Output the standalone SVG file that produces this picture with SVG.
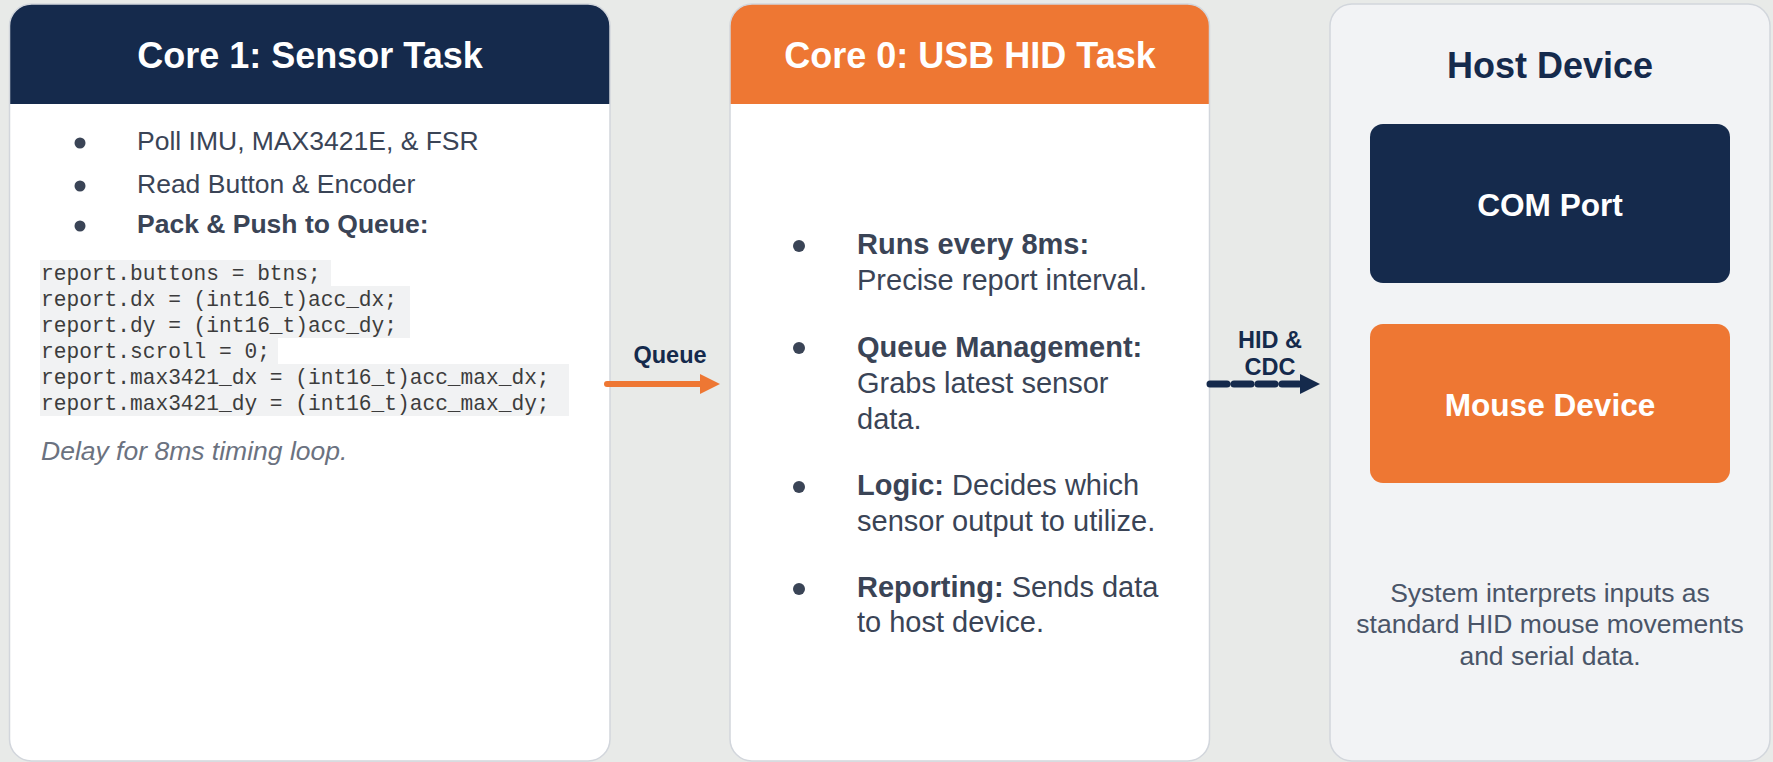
<svg xmlns="http://www.w3.org/2000/svg" width="1773" height="762" viewBox="0 0 1773 762">
<defs>
<style>
.panel{stroke:#d2d6dc;stroke-width:1.5}
.title{font-family:"Liberation Sans",Arial,sans-serif;font-weight:bold;font-size:36px;text-anchor:middle}
.body{font-family:"Liberation Sans",Arial,sans-serif;fill:#3a4456}
.b{font-weight:bold}
.code{font-family:"Liberation Mono","Courier New",monospace;font-size:21.2px;fill:#3c3c3c}
.codebg{fill:#f1f2f3}
.lbl{font-family:"Liberation Sans",Arial,sans-serif;font-weight:bold;font-size:23.5px;fill:#152a4c;text-anchor:middle}
.dot{fill:#3a4456}
</style>
<marker id="headO" markerUnits="userSpaceOnUse" markerWidth="20" markerHeight="20" refX="2" refY="10" orient="auto">
<path d="M0,0 L20,10 L0,20 Z" fill="#ee7733"/>
</marker>
<marker id="headN" markerUnits="userSpaceOnUse" markerWidth="20" markerHeight="20" refX="2" refY="10" orient="auto">
<path d="M0,0 L20,10 L0,20 Z" fill="#152a4c"/>
</marker>
</defs>
<rect width="1773" height="762" fill="#e8eae8"/>

<g id="core1">
<rect x="9.5" y="4" width="600.5" height="757" rx="22" fill="#ffffff"/>
<path d="M9.5,104 V26 A22,22 0 0 1 31.5,4 H588 A22,22 0 0 1 610,26 V104 Z" fill="#152a4c"/>
<rect class="panel" x="9.5" y="4" width="600.5" height="757" rx="22" fill="none"/>
<text class="title" x="310" y="68" fill="#ffffff">Core 1: Sensor Task</text>
<circle class="dot" cx="80" cy="143" r="5.5"/>
<circle class="dot" cx="80" cy="186" r="5.5"/>
<circle class="dot" cx="80" cy="226" r="5.5"/>
<text class="body" font-size="26.5" x="137" y="150">Poll IMU, MAX3421E, &amp; FSR</text>
<text class="body" font-size="26.5" x="137" y="193">Read Button &amp; Encoder</text>
<text class="body b" font-size="26.5" x="137" y="233">Pack &amp; Push to Queue:</text>
<rect class="codebg" x="40" y="260" width="291" height="26"/>
<rect class="codebg" x="40" y="286" width="370" height="26"/>
<rect class="codebg" x="40" y="312" width="370" height="26"/>
<rect class="codebg" x="40" y="338" width="238" height="26"/>
<rect class="codebg" x="40" y="364" width="529" height="26"/>
<rect class="codebg" x="40" y="390" width="529" height="26"/>
<text class="code" x="41" y="280">report.buttons = btns;</text>
<text class="code" x="41" y="306">report.dx = (int16_t)acc_dx;</text>
<text class="code" x="41" y="332">report.dy = (int16_t)acc_dy;</text>
<text class="code" x="41" y="358">report.scroll = 0;</text>
<text class="code" x="41" y="384">report.max3421_dx = (int16_t)acc_max_dx;</text>
<text class="code" x="41" y="410">report.max3421_dy = (int16_t)acc_max_dy;</text>
<text class="body" font-size="26.5" font-style="italic" fill="#6b7280" style="fill:#6b7280" x="41" y="460">Delay for 8ms timing loop.</text>
</g>

<g id="core0">
<rect x="730" y="4" width="479.5" height="757" rx="22" fill="#ffffff"/>
<path d="M730,104 V26 A22,22 0 0 1 752,4 H1187.5 A22,22 0 0 1 1209.5,26 V104 Z" fill="#ee7733"/>
<rect class="panel" x="730" y="4" width="479.5" height="757" rx="22" fill="none"/>
<text class="title" x="970" y="68" fill="#ffffff">Core 0: USB HID Task</text>
<circle class="dot" cx="799" cy="246" r="6"/>
<circle class="dot" cx="799" cy="348" r="6"/>
<circle class="dot" cx="799" cy="487" r="6"/>
<circle class="dot" cx="799" cy="589" r="6"/>
<text class="body" font-size="29" x="857" y="254"><tspan class="b">Runs every 8ms:</tspan></text>
<text class="body" font-size="29" x="857" y="290">Precise report interval.</text>
<text class="body" font-size="29" x="857" y="357"><tspan class="b">Queue Management:</tspan></text>
<text class="body" font-size="29" x="857" y="393">Grabs latest sensor</text>
<text class="body" font-size="29" x="857" y="429">data.</text>
<text class="body" font-size="29" x="857" y="495"><tspan class="b">Logic:</tspan> Decides which</text>
<text class="body" font-size="29" x="857" y="531">sensor output to utilize.</text>
<text class="body" font-size="29" x="857" y="597"><tspan class="b">Reporting:</tspan> Sends data</text>
<text class="body" font-size="29" x="857" y="632">to host device.</text>
</g>

<g id="host">
<rect class="panel" x="1330" y="4" width="440" height="757" rx="22" fill="#f2f3f5"/>
<text class="title" x="1550" y="78" fill="#152a4c">Host Device</text>
</g>

<g id="com-port">
<rect x="1370" y="124" width="360" height="159" rx="13" fill="#152a4c"/>
<text class="title" x="1550" y="216" fill="#ffffff" style="font-size:31.6px">COM Port</text>
</g>

<g id="mouse-device">
<rect x="1370" y="324" width="360" height="159" rx="13" fill="#ee7733"/>
<text class="title" x="1550" y="416" fill="#ffffff" style="font-size:31.6px">Mouse Device</text>
</g>

<g id="host-note">
<text class="body" font-size="26.5" text-anchor="middle" style="fill:#4a5568" x="1550" y="602">System interprets inputs as</text>
<text class="body" font-size="26.5" text-anchor="middle" style="fill:#4a5568" x="1550" y="633">standard HID mouse movements</text>
<text class="body" font-size="26.5" text-anchor="middle" style="fill:#4a5568" x="1550" y="665">and serial data.</text>
</g>

<g id="connectors">
<line x1="607" y1="384" x2="702" y2="384" stroke="#ee7733" stroke-width="6" stroke-linecap="round" marker-end="url(#headO)"/>
<text class="lbl" x="670" y="363">Queue</text>
<line x1="1210" y1="384" x2="1302" y2="384" stroke="#152a4c" stroke-width="7" stroke-linecap="round" stroke-dasharray="17 7" marker-end="url(#headN)"/>
<text class="lbl" x="1270" y="348">HID &amp;</text>
<text class="lbl" x="1270" y="375">CDC</text>
</g>
</svg>
